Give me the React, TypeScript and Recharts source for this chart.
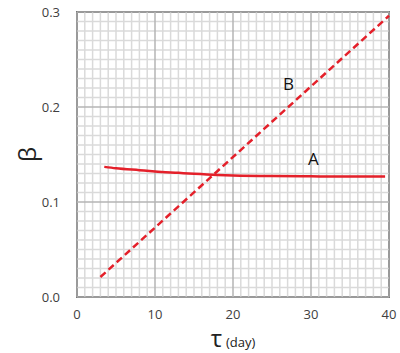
import React from "react";
import {
  LineChart,
  Line,
  XAxis,
  YAxis,
  ReferenceLine,
  ReferenceArea,
  ReferenceDot,
} from "recharts";

// values
const tauA = [3.5, 5, 8, 10, 13, 15, 18, 20, 25, 30, 35, 39.5];
const betaA = [0.137, 0.1355, 0.1335, 0.1322, 0.1307, 0.1297, 0.1285, 0.128, 0.1273, 0.127, 0.1268, 0.1268];
const tauB = [3, 40];
const betaB = [0.021, 0.296];

const xTicks = [0, 10, 20, 30, 40];
const yTicks = [0, 0.1, 0.2, 0.3];

// grid positions
const minorX = Array.from({ length: 41 }, (_, i) => i).filter((v) => v % 10 !== 0);
const minorY = Array.from({ length: 31 }, (_, i) => i / 100).filter((_, i) => i % 10 !== 0);

const seriesA = tauA.map((t, i) => ({ tau: t, beta: betaA[i] }));
const seriesB = tauB.map((t, i) => ({ tau: t, beta: betaB[i] }));

const RED = "#e4202a";
const FONT = "'Open Sans', 'Liberation Sans', sans-serif";

export default function App() {
  return (
    <div style={{ position: "absolute", left: 0, top: 0, background: "#fff" }}>
      <LineChart width={400} height={353} margin={{ top: 12, right: 11, left: 0, bottom: 0 }}>
        <XAxis
          type="number"
          dataKey="tau"
          domain={[0, 40]}
          ticks={xTicks}
          axisLine={false}
          tickLine={false}
          tickSize={0}
          tickMargin={13}
          height={56}
          tick={{ fill: "#404040", fontSize: 13, fontFamily: FONT }}
          label={{
            content: ({ viewBox }: any) => (
              <text x={viewBox.x + viewBox.width / 2} y={347} textAnchor="middle" fill="#222" fontFamily={FONT}>
                <tspan fontSize={24}>τ</tspan>
                <tspan fontSize={13} dx={4}>(day)</tspan>
              </text>
            ),
          }}
        />
        <YAxis
          type="number"
          dataKey="beta"
          domain={[0, 0.3]}
          ticks={yTicks}
          width={77}
          axisLine={false}
          tickLine={false}
          tickSize={0}
          tickMargin={17}
          tickFormatter={(v: number) => v.toFixed(1)}
          tick={{ fill: "#404040", fontSize: 13, fontFamily: FONT }}
          label={{
            content: ({ viewBox }: any) => (
              <text
                transform={`translate(36, ${viewBox.y + viewBox.height / 2}) rotate(-90)`}
                textAnchor="middle"
                fontSize={24}
                fill="#222"
                fontFamily={FONT}
              >
                β
              </text>
            ),
          }}
        />
        {minorX.map((v) => (
          <ReferenceLine key={"mx" + v} x={v} stroke="#dadada" strokeWidth={1.5} />
        ))}
        {minorY.map((v) => (
          <ReferenceLine key={"my" + v} y={v} stroke="#dadada" strokeWidth={1.5} />
        ))}
        {xTicks.map((v) => (
          <ReferenceLine key={"Mx" + v} x={v} stroke="#b4b4b4" strokeWidth={1.5} />
        ))}
        {yTicks.map((v) => (
          <ReferenceLine key={"My" + v} y={v} stroke="#b4b4b4" strokeWidth={1.5} />
        ))}
        <Line
          data={seriesA}
          dataKey="beta"
          type="monotone"
          stroke={RED}
          strokeWidth={2.5}
          dot={false}
          isAnimationActive={false}
        />
        <Line
          data={seriesB}
          dataKey="beta"
          type="linear"
          stroke={RED}
          strokeWidth={2.5}
          strokeDasharray="7 4"
          dot={false}
          isAnimationActive={false}
        />
        <ReferenceArea x1={0} x2={40} y1={0} y2={0.3} fill="none" stroke="#111" strokeWidth={1.5} />
        <ReferenceDot
          x={27.1}
          y={0.224}
          r={0}
          label={{ value: "B", fontSize: 17, fill: "#111", fontFamily: FONT, position: "center" }}
        />
        <ReferenceDot
          x={30.3}
          y={0.145}
          r={0}
          label={{ value: "A", fontSize: 17, fill: "#111", fontFamily: FONT, position: "center" }}
        />
      </LineChart>
    </div>
  );
}
